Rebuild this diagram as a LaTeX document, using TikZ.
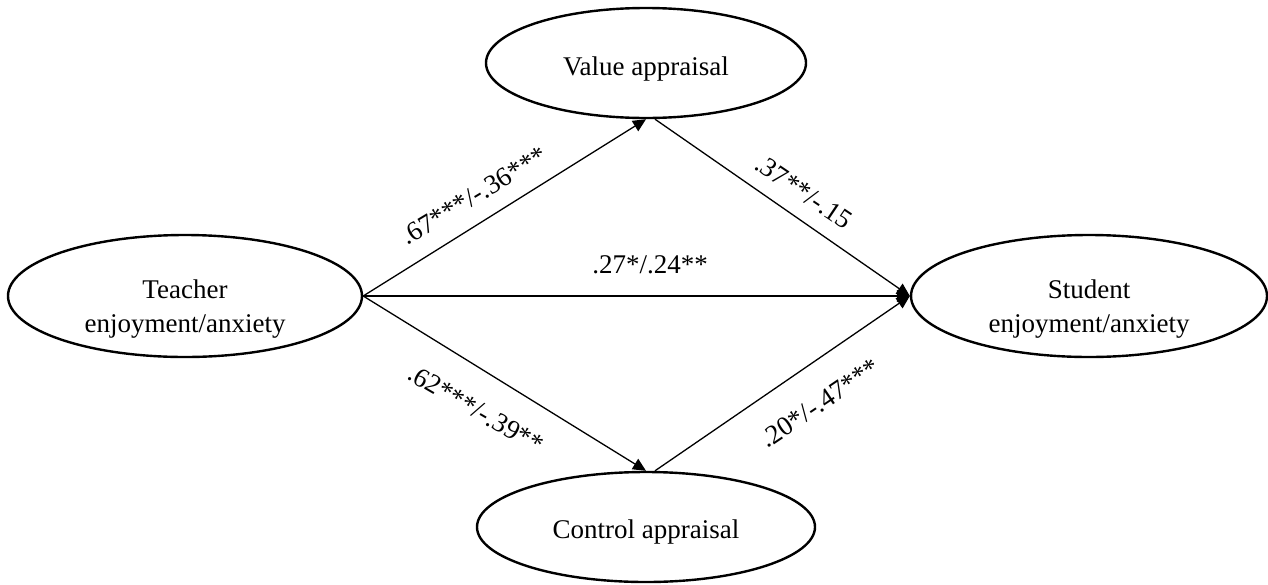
\documentclass[tikz,border=0pt]{standalone}
\usepackage{fontspec}
\setmainfont{Liberation Serif}
\usetikzlibrary{shapes.geometric,arrows.meta,backgrounds}
\begin{document}
\begin{tikzpicture}[x=1pt,y=-1pt,
  latent/.style={ellipse,draw,line width=2.4pt,fill=white,inner sep=0pt},
  lab/.style={align=center,inner sep=0pt,font=\fontsize{27}{34}\selectfont},
  pathline/.style={line width=1.3pt,-{Triangle[length=13pt,width=12pt]}},
  coef/.style={font=\fontsize{27}{32}\selectfont,inner sep=0pt}]
\useasboundingbox (0,0) rectangle (1268,584);
\node[latent,minimum width=320pt,minimum height=110pt] (val) at (646,63) {};
\node[latent,minimum width=338pt,minimum height=110pt] (ctl) at (646,527) {};
\node[latent,minimum width=354pt,minimum height=122pt] (tea) at (185,296) {};
\node[latent,minimum width=356pt,minimum height=122pt] (stu) at (1089,296) {};
\node[lab] (valt) at ([yshift=-6pt]val.center) {Value appraisal};
\node[lab] (ctlt) at ([yshift=-5pt]ctl.center) {Control appraisal};
\node[lab] (teat) at ([yshift=-13pt]tea.center) {Teacher\\enjoyment/anxiety};
\node[lab] (stut) at ([yshift=-13pt]stu.center) {Student\\enjoyment/anxiety};
\begin{scope}[on background layer]
\draw[pathline] (tea.east) -- (val.south);
\draw[pathline] (tea.east) -- (ctl.north);
\draw[pathline] (tea.east) -- (stu.west);
\draw[pathline] ([xshift=9pt]val.south) -- (stu.west);
\draw[pathline] ([xshift=9pt]ctl.north) -- (stu.west);
\end{scope}
\node[coef,rotate=31] (c1) at (474,196) {.67***/-.36***};
\node[coef,rotate=-34] (c2) at (804,192) {.37**/-.15};
\node[coef] (c3) at (650,265) {.27*/.24**};
\node[coef,rotate=-30] (c4) at (476,409) {.62***/-.39**};
\node[coef,rotate=34] (c5) at (820,403) {.20*/-.47***};
\end{tikzpicture}
\end{document}
